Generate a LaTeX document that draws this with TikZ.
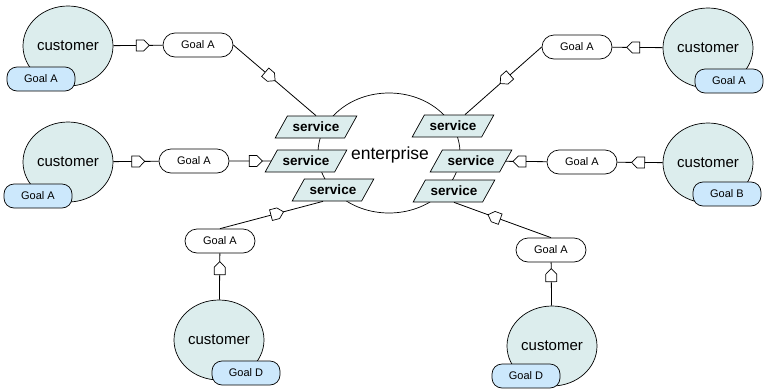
\documentclass[tikz,border=0pt]{standalone}
\usepackage{fontspec}
\setmainfont{Liberation Sans}
\usetikzlibrary{shapes.geometric,shapes.misc,shapes.symbols,calc}
\definecolor{teal1}{RGB}{220,237,237}
\definecolor{tagblue}{RGB}{204,232,252}
\tikzset{
  cust/.style={ellipse, draw, fill=teal1, minimum width=90pt, minimum height=80pt, inner sep=0pt, line width=0.7pt, font=\fontsize{15}{18}\selectfont},
  tagbox/.style={rectangle, rounded corners=10pt, draw, fill=tagblue, minimum width=68pt, minimum height=24pt, inner sep=0pt, line width=0.7pt, font=\fontsize{11}{13}\selectfont},
  goal/.style={rounded rectangle, draw, fill=white, minimum width=70pt, minimum height=24pt, inner sep=0pt, line width=0.7pt, font=\fontsize{11}{13}\selectfont},
  svc/.style={trapezium, trapezium left angle=45, trapezium right angle=135, trapezium stretches=true, draw, fill=teal1, minimum width=82pt, minimum height=22pt, inner sep=0pt, line width=0.7pt, font=\bfseries\fontsize{13.5}{16}\selectfont},
  ent/.style={ellipse, draw, fill=white, minimum width=142pt, minimum height=120pt, inner sep=0pt, line width=0.7pt, font=\fontsize{17.5}{20}\selectfont},
  pent/.style={signal, signal to=east, signal pointer angle=90, draw, fill=white, minimum width=13pt, minimum height=11pt, inner sep=0pt, line width=0.7pt, sloped, allow upside down},
  conn/.style={draw, line width=0.8pt}
}
\begin{document}
\begin{tikzpicture}[x=1pt,y=-1pt]
\useasboundingbox (0,0) rectangle (764,389);
% enterprise
\node[ent] (ent) at (389,153) {};
\node[font=\fontsize{17.5}{20}\selectfont] (entlabel) at (390,155) {enterprise};
% services
\node[svc] (s1) at (316,127) {service};
\node[svc] (s2) at (306,161) {service};
\node[svc] (s3) at (333,190) {service};
\node[svc] (s4) at (453,126) {service};
\node[svc] (s5) at (471,161) {service};
\node[svc] (s6) at (454,191) {service};
% customers with tags
\node[cust] (c1) at (68,46) {customer};
\node[tagbox] (t1) at (41,79) {Goal A};
\node[cust] (c2) at (68,162) {customer};
\node[tagbox] (t2) at (38,196) {Goal A};
\node[cust] (c3) at (708,48) {customer};
\node[tagbox] (t3) at (729,81) {Goal A};
\node[cust] (c4) at (708,163) {customer};
\node[tagbox] (t4) at (727,194) {Goal B};
\node[cust] (c5) at (219,340) {customer};
\node[tagbox] (t5) at (246,373) {Goal D};
\node[cust] (c6) at (552,346) {customer};
\node[tagbox] (t6) at (526,376) {Goal D};
% goals
\node[goal] (g1) at (198,45) {Goal A};
\node[goal] (g2) at (194,161) {Goal A};
\node[goal] (g3) at (577,47) {Goal A};
\node[goal] (g4) at (582,162) {Goal A};
\node[goal] (g5) at (220,241) {Goal A};
\node[goal] (g6) at (551,250) {Goal A};
% attachment points
\coordinate (s4t) at ($(s4.north)+(12,0)$);
\coordinate (s3b) at ($(s3.south)+(-10,0)$);
% connectors
\draw[conn] (c1) -- node[pent,pos=0.54]{} (g1);
\draw[conn] (g1.east) -- node[pent,pos=0.42]{} (s1.north);
\draw[conn] (c2) -- node[pent,pos=0.49]{} (g2);
\draw[conn] (g2) -- node[pent,pos=0.57]{} (s2);
\draw[conn] (c3) -- node[pent,pos=0.53]{} (g3);
\draw[conn] (g3.west) -- node[pent,pos=0.45]{} (s4t);
\draw[conn] (c4) -- node[pent,pos=0.48]{} (g4);
\draw[conn] (g4) -- node[pent,pos=0.6]{} (s5);
\draw[conn] (c5) -- node[pent,pos=0.62]{} (g5);
\draw[conn] (g5.north) -- node[pent,pos=0.53]{} (s3b);
\draw[conn] (c6) -- node[pent,pos=0.64]{} (g6);
\draw[conn] (g6.north) -- node[pent,pos=0.56]{} (s6.south);
\end{tikzpicture}
\end{document}
